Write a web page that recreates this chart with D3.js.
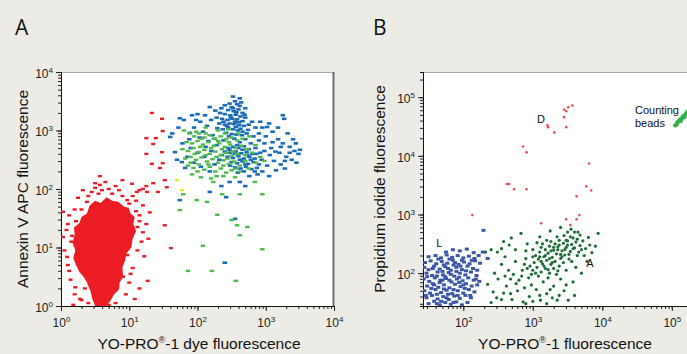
<!DOCTYPE html>
<html>
<head>
<meta charset="utf-8">
<script src="https://cdn.jsdelivr.net/npm/d3@7"></script>
<style>
  html, body { margin: 0; padding: 0; background: #ecebe5; }
  svg { display: block; font-family: "Liberation Sans", Arial, sans-serif; }
</style>
</head>
<body>
<svg id="chart" width="687" height="354"></svg>
<script>
// ---- data (values are log10 exponents: [log x, log y]) ----
// Panel A: YO-PRO-1 dye vs Annexin V APC
const redCoreA = [[0.42,1.72],[0.50,1.80],[0.58,1.76],[0.67,1.86],[0.75,1.80],[0.84,1.78],[0.92,1.70],[0.99,1.68],[1.02,1.58],[1.08,1.52],[1.06,1.40],[1.10,1.28],[1.05,1.15],[1.03,1.00],[0.96,0.90],[0.94,0.78],[0.90,0.66],[0.91,0.50],[0.86,0.40],[0.85,0.28],[0.78,0.20],[0.72,0.08],[0.66,0.0],[0.50,0.0],[0.46,0.12],[0.43,0.26],[0.38,0.40],[0.33,0.50],[0.27,0.58],[0.22,0.70],[0.18,0.82],[0.21,0.95],[0.17,1.08],[0.20,1.22],[0.19,1.34],[0.27,1.42],[0.30,1.52],[0.38,1.58]];
const redA = [[1.33,3.30],[1.48,3.20],[1.49,2.99],[1.25,2.87],[1.39,2.87],[1.35,2.77],[1.25,2.60],[1.48,2.63],[1.33,2.43],[1.45,2.36],[1.49,2.44],[0.57,2.22],[1.52,2.15],[1.04,2.09],[1.26,1.95],[1.42,1.95],[1.55,2.03],[0.32,1.98],[0.57,2.07],[1.52,1.38],[1.61,0.99],[1.27,0.43],[1.20,1.26],[0.03,1.61],[0.03,1.18],[0.09,0.84],[0.21,0.32],[0.97,0.87],[1.05,1.30],[0.91,0.50],[0.72,1.57],[0.82,1.74],[0.97,1.81],[1.11,1.95],[0.38,1.78],[0.10,1.40],[0.15,1.10],[0.12,0.60],[0.20,0.20],[0.30,0.10],[0.45,1.95],[0.60,1.98],[0.75,1.92],[0.90,1.88],[1.00,1.75],[1.10,1.62],[1.15,1.45],[1.18,1.10],[1.12,0.95],[1.05,0.65],[1.00,0.40],[0.95,0.20],[0.80,0.05],[0.25,0.85],[0.22,1.45],[0.30,1.65],[0.05,0.95],[0.08,1.30],[0.65,2.12],[0.80,2.05],[1.20,2.00],[0.40,0.05],[0.50,2.02],[1.35,2.10],[1.15,1.98],[1.10,1.80],[1.12,1.35],[0.16,1.20],[0.14,0.45],[0.98,1.05],[1.02,0.55],
  [1.15,1.55],[1.20,1.72],[1.25,1.40],[1.22,0.85],[1.15,0.30],[0.70,0.02],[0.35,0.30],[0.28,0.12],[0.10,0.70],[0.12,1.55],[0.20,1.65],[0.25,1.85],[0.40,1.88],[0.55,1.92],[0.70,2.00],[0.85,1.98],[1.05,1.88],[1.30,1.60],[1.28,1.15],[0.50,2.10],[0.90,2.15],[1.25,2.05],[0.18,0.02],[1.08,0.12]];
const blueA = [[2.55,3.50],[2.58,3.45],[2.50,3.40],[2.62,3.42],[2.45,3.35],[2.53,3.33],[2.60,3.36],[2.66,3.30],[2.40,3.28],[2.48,3.26],[2.56,3.27],[2.63,3.24],[2.70,3.22],[2.36,3.20],[2.44,3.18],[2.51,3.20],[2.58,3.19],[2.66,3.16],[2.32,3.12],[2.40,3.10],[2.47,3.12],[2.54,3.11],[2.61,3.09],[2.68,3.08],[2.75,3.10],[2.29,3.04],[2.37,3.02],[2.45,3.05],[2.52,3.02],[2.59,3.00],[2.66,2.98],[2.42,2.96],[2.50,2.94],[2.57,2.93],[2.35,3.38],[2.70,3.38],[2.47,3.46],[2.40,3.43],[2.64,3.48],[2.55,3.15],
  [2.45,2.70],[2.52,2.72],[2.60,2.70],[2.68,2.73],[2.75,2.68],[2.40,2.64],[2.48,2.62],[2.56,2.64],[2.64,2.61],[2.72,2.63],[2.80,2.60],[2.44,2.55],[2.52,2.53],[2.60,2.56],[2.68,2.52],[2.76,2.55],[2.84,2.52],[2.50,2.46],[2.58,2.44],[2.66,2.47],[2.74,2.43],[2.82,2.46],[2.90,2.42],[2.55,2.37],[2.63,2.35],[2.71,2.38],[2.79,2.34],[2.87,2.36],[2.36,2.58],[2.62,2.80],[2.70,2.85],[2.78,2.78],[2.85,2.70],[2.92,2.62],[2.48,2.40],
  [2.95,3.05],[3.05,3.12],[2.90,2.95],[3.00,2.90],[3.10,2.98],[3.18,2.85],[3.25,2.78],[3.35,2.72],[3.42,2.65],[3.48,2.60],[3.30,2.55],[3.20,2.62],[3.08,2.70],[2.98,2.78],[3.12,2.48],[3.22,2.42],[3.38,2.50],[3.02,2.40],[2.95,2.30],[3.15,2.32],[3.28,2.35],[2.88,2.25],[3.05,2.22],[2.92,3.15],[3.18,3.05],[3.40,2.85],[3.32,2.95],[3.45,2.45],[2.82,2.90],[3.10,2.80],[3.25,3.26],[3.27,3.20],[3.02,3.06],
  [1.60,2.89],[1.63,2.95],[1.67,2.63],[1.74,3.21],[1.80,3.18],[1.92,3.26],[2.00,3.28],[2.11,3.26],[2.04,3.15],[2.14,3.08],[2.20,3.18],[1.85,2.55],[1.77,2.46],[1.82,2.36],[1.70,2.50],[1.89,2.96],[1.95,3.05],[2.08,2.98],[2.22,2.92],[1.78,2.78],[1.90,2.70],[2.00,2.62],[2.10,2.55],[1.95,2.45],[2.05,2.38],[2.18,2.30],[2.25,2.42],[1.88,2.85],[2.16,2.82],[1.72,3.05],[2.28,2.75],
  [2.52,3.38],[2.57,3.31],[2.49,3.22],[2.61,3.14],[2.43,3.08],[2.56,3.06],[2.63,3.03],[2.38,3.15],[2.69,3.27],[2.33,3.30],[2.28,3.22],[2.74,3.01],[2.80,3.15],[2.85,3.05],[2.46,2.90],[2.54,2.86],[2.65,2.92],[2.72,2.95],[2.58,2.75],[2.66,2.67],[2.73,2.58],[2.55,2.60],[2.47,2.67],[2.62,2.50],[2.70,2.42],[2.78,2.50],[2.86,2.60],[2.94,2.50],[2.98,2.65],[3.06,2.58],[3.14,2.64],[3.22,2.72],[3.35,2.62],[3.28,2.48],[2.84,2.30],[2.68,2.30],[2.76,2.22],[2.59,2.28],[2.32,2.50],[2.20,2.65],[2.12,2.72],[2.03,2.88],[1.98,3.18],[2.26,3.34],[2.18,3.40],[2.62,3.55],[2.52,3.58],[2.38,2.83],[3.50,2.67],[3.44,2.78],[2.90,2.83],
  [1.74,1.81],[2.18,1.95],[2.42,1.86],[2.55,1.49],[2.40,0.74],[2.62,2.12],[2.47,2.12],[2.35,2.05],[2.70,2.05]];
const greenA = [[1.80,3.00],[1.88,2.95],[1.95,2.90],[2.02,2.95],[2.10,2.88],[2.18,2.92],[2.26,2.86],[2.34,2.90],[2.42,2.85],[2.50,2.88],[2.58,2.83],[2.66,2.86],[1.84,2.80],[1.92,2.78],[2.00,2.82],[2.08,2.76],[2.16,2.80],[2.24,2.74],[2.32,2.78],[2.40,2.72],[2.48,2.76],[2.56,2.70],[2.64,2.74],[2.72,2.68],[1.78,2.68],[1.86,2.65],[1.94,2.70],[2.02,2.63],[2.10,2.67],[2.18,2.60],[2.26,2.64],[2.34,2.58],[2.42,2.62],[2.50,2.57],[2.58,2.60],[2.80,2.62],[1.82,2.52],[1.90,2.55],[1.98,2.50],[2.06,2.54],[2.14,2.47],[2.22,2.51],[2.30,2.45],[2.38,2.49],[2.46,2.43],[2.54,2.47],[2.70,2.48],[1.86,2.40],[1.94,2.36],[2.02,2.42],[2.10,2.33],[2.18,2.38],[2.26,2.30],[2.34,2.35],[2.42,2.28],[2.50,2.32],[2.62,2.30],[2.75,2.35],[1.92,2.25],[2.05,2.20],[2.20,2.18],[2.38,2.22],[2.55,2.20],[2.92,2.55],[2.98,2.48],[2.85,2.75],[2.30,3.00],[2.45,3.02],[2.12,3.05],[2.60,2.95],[2.76,2.90],
  [2.20,2.70],[2.28,2.55],[2.36,2.68],[2.44,2.52],[2.12,2.58],[2.04,2.72],[1.96,2.60],[2.30,2.82],[2.38,2.40],[2.16,2.42],[2.24,2.86],[2.52,2.64],[2.46,2.80],[2.06,2.86],[1.90,2.45],[2.00,2.30],[2.28,2.22],[2.62,2.40],[2.70,2.58],[2.86,2.45],[2.12,2.95],[2.40,2.95],[1.98,2.98],[2.56,2.35],
  [1.79,1.91],[1.99,1.81],[2.14,1.78],[1.74,1.64],[2.36,1.91],[2.62,1.91],[2.95,1.91],[2.29,1.56],[2.50,1.47],[2.58,1.38],[2.73,1.35],[2.62,1.21],[2.08,1.03],[2.95,0.97],[1.86,0.60],[2.21,0.60],[2.56,0.43],[2.84,2.12],[2.23,2.12]];
const yellowA = [[1.70,2.15],[1.77,1.98]];

// Panel B: YO-PRO-1 vs propidium iodide
const blueL = [[1.85,2.40],[1.95,2.38],[2.05,2.41],[1.75,2.36],[2.15,2.35],
  [1.50,2.28],[1.60,2.30],[1.68,2.26],[1.76,2.31],[1.84,2.27],[1.92,2.30],[2.00,2.26],[2.08,2.29],[2.16,2.25],[2.22,2.30],
  [1.45,2.18],[1.53,2.21],[1.61,2.16],[1.69,2.20],[1.77,2.17],[1.85,2.22],[1.93,2.15],[2.01,2.19],[2.09,2.16],[2.17,2.21],[2.24,2.17],
  [1.44,2.10],[1.50,2.06],[1.58,2.12],[1.66,2.07],[1.74,2.11],[1.82,2.05],[1.90,2.10],[1.98,2.06],[2.06,2.12],[2.14,2.08],[2.20,2.05],
  [1.47,2.00],[1.55,1.96],[1.63,2.02],[1.71,1.97],[1.79,2.01],[1.87,1.95],[1.95,2.00],[2.03,1.97],[2.11,2.02],[2.19,1.96],
  [1.43,1.90],[1.51,1.86],[1.59,1.92],[1.67,1.88],[1.75,1.91],[1.83,1.85],[1.91,1.90],[1.99,1.87],[2.07,1.92],[2.15,1.88],[2.23,1.86],
  [1.48,1.78],[1.56,1.82],[1.64,1.76],[1.72,1.80],[1.80,1.75],[1.88,1.81],[1.96,1.77],[2.04,1.82],[2.12,1.78],[2.20,1.80],
  [1.44,1.70],[1.52,1.66],[1.60,1.72],[1.68,1.67],[1.76,1.71],[1.84,1.65],[1.92,1.70],[2.00,1.66],[2.08,1.72],[2.16,1.68],
  [1.47,1.58],[1.55,1.62],[1.63,1.56],[1.71,1.60],[1.79,1.55],[1.87,1.61],[1.95,1.57],[2.03,1.62],[2.11,1.58],
  [1.50,1.48],[1.58,1.52],[1.66,1.46],[1.74,1.50],[1.82,1.47],[1.90,1.51],[1.98,1.46],[2.06,1.50],
  [1.78,2.08],[1.86,2.14],[1.70,2.03],[1.82,1.98],[1.90,2.03],[1.74,1.94],[1.66,1.84],[1.80,1.88],[1.94,1.93],[1.88,2.18],[1.96,2.12],[1.62,1.95],[1.72,1.73],[1.58,1.80],[2.00,1.80],
  [1.46,1.62],[1.54,1.74],[1.62,1.64],[1.70,1.88],[1.78,1.64],[1.86,1.72],[1.94,1.84],[2.02,1.74],[1.64,2.24],[1.72,2.14],[1.80,2.24],[1.98,2.22],[2.04,2.04],[1.56,2.08],[1.48,1.94],[1.68,1.52],[1.86,1.50],[2.10,1.62],[2.18,1.90],[2.12,2.22],[1.92,1.62],[1.76,1.58],[1.62,1.48],
  [2.29,2.73],[2.28,2.36],[2.35,2.25]];
const greenB = [[3.40,2.78],[3.65,2.70],[3.80,2.61],[3.94,2.68],[3.90,2.46],[2.83,2.68],[2.69,2.60],[2.49,2.36],[2.32,2.36],[3.55,2.75],[3.25,2.72],[3.72,2.55],[2.40,2.40],[2.55,2.42],
  [2.35,1.81],[2.43,1.68],[2.58,1.66],[2.86,1.51],[3.11,1.54],[3.35,1.54],[3.51,1.54],[2.50,1.90],[2.62,1.78],[2.70,1.55],[2.78,1.70],[2.95,1.60],[3.20,1.65],[3.45,1.70],[3.60,1.62],[2.65,2.05],[2.55,2.15],[2.75,2.20],[2.45,2.00],[2.90,1.48],[3.05,1.72],[3.30,1.78],[3.40,1.90],[3.58,1.85],[2.80,1.88],[2.98,1.80],[3.15,1.85],[2.72,1.98],[2.85,2.05],[3.70,2.00],[3.78,2.20],[3.85,2.35],[3.62,2.10],[2.60,2.28],[2.48,1.58],[3.00,2.40],[2.92,2.50],[3.10,2.62],[3.20,1.48],[2.40,1.50],
  [3.00,2.05],[3.06,2.10],[3.12,2.02],[3.18,2.08],[3.24,2.00],[3.02,2.18],[3.08,2.24],[3.14,2.16],[3.20,2.22],[3.26,2.15],[3.32,2.20],[3.38,2.12],[3.04,2.30],[3.10,2.36],[3.16,2.28],[3.22,2.34],[3.28,2.27],[3.34,2.33],[3.40,2.25],[3.46,2.31],[3.52,2.24],[3.12,2.44],[3.18,2.40],[3.24,2.46],[3.30,2.39],[3.36,2.45],[3.42,2.38],[3.48,2.44],[3.54,2.37],[3.60,2.43],[3.66,2.36],[3.26,2.54],[3.32,2.50],[3.38,2.56],[3.44,2.51],[3.50,2.55],[3.56,2.49],[3.62,2.53],[3.68,2.47],[3.35,2.62],[3.45,2.64],[3.58,2.60],[2.96,2.12],[2.98,1.98],[3.08,1.95],[3.30,2.08],[3.44,2.18],[3.56,2.20],[3.14,2.50],[3.20,2.56],[3.64,2.30],[3.70,2.40],[3.22,1.92],[3.34,1.98],[3.48,2.05],[2.90,2.25],[2.92,2.08],[3.06,2.52],[3.36,2.04],[3.18,2.30],[3.30,2.44],[3.42,2.28],[3.50,2.48],
  [3.10,2.28],[3.26,2.38],[3.38,2.48],[3.48,2.56],[3.54,2.62],[3.40,2.32],[3.28,2.18],[3.16,2.12],[3.04,2.00],[2.94,1.92],[3.12,2.20],[3.24,2.25],[3.36,2.40],[3.46,2.40],[3.58,2.42],[3.64,2.58],[3.52,2.32],[3.22,2.06],[3.00,2.28],[2.88,2.15],[2.84,1.95],[2.76,1.82],[2.68,1.90],[2.60,1.95],[2.88,1.75],[3.10,1.62],[3.25,1.72],[3.38,1.62],[3.48,1.80],[2.68,1.65],[2.55,1.55],[3.00,1.52],[3.28,1.58],[2.75,2.40],[2.66,2.48],[2.58,2.54],[2.90,2.38],[3.74,2.30],[3.82,2.48],[3.68,2.65],[3.76,2.42],[3.60,2.70],[3.50,2.70]];
const redD = [[2.86,4.16],[2.91,4.06],[3.21,4.52],[3.22,4.49],[3.31,4.40],[3.45,4.79],[3.48,4.76],[3.51,4.83],[3.57,4.86],[3.45,4.66],[3.48,4.49],[3.81,3.87],[2.63,3.52],[2.66,3.52],[2.73,3.43],[2.91,3.43],[3.77,3.48],[3.84,3.41],[3.63,3.31],[2.13,2.99],[3.12,2.85],[3.48,2.92],[3.54,2.82],[3.63,2.92],[3.67,2.99]];
const beadsB = [[5.05,4.52],[5.07,4.54],[5.08,4.57],[5.10,4.59],[5.12,4.62],[5.13,4.60],[5.15,4.65],[5.17,4.68],[5.18,4.66],[5.20,4.71],[5.22,4.74],[5.24,4.77]];

const ticksA = [0, 1, 2, 3, 4];
const ticksBx = [2, 3, 4, 5];
const ticksBy = [2, 3, 4, 5];
const notesB = [
  { t: "D", x: 3.06, y: 4.56 },
  { t: "Counting", x: 4.47, y: 4.71 },
  { t: "beads", x: 4.47, y: 4.50 },
  { t: "L", x: 1.61, y: 2.44 },
  { t: "A", x: 3.77, y: 2.10 }
];

const svg = d3.select("#chart");
const p10 = (e) => Math.pow(10, e);

function minorTicks(lo, hi) {
  const out = [];
  for (let k = Math.floor(lo); k <= Math.ceil(hi); k++) {
    for (let m = 1; m <= 9; m++) {
      const v = Math.log10(m) + k;
      if (v >= lo - 1e-6 && v <= hi + 1e-6) out.push(p10(v));
    }
  }
  return out;
}

function supLabels(g) {
  g.selectAll(".tick text").each(function (d) {
    const t = d3.select(this);
    t.text("10");
    t.append("tspan").attr("dy", -5).attr("font-size", 8).text(Math.round(Math.log10(d)));
  });
}

function panel(opts) {
  const { x, y, xLo, xHi, yLo, yHi, xMaj, yMaj, id } = opts;
  const x0 = x.range()[0], x1 = x.range()[1], y0 = y.range()[0], y1 = y.range()[1];
  const g = svg.append("g");
  g.append("rect").attr("x", x0).attr("y", y1).attr("width", x1 - x0).attr("height", y0 - y1).attr("fill", "#fff");
  g.append("line").attr("x1", x0).attr("x2", x1).attr("y1", y1 + 0.5).attr("y2", y1 + 0.5).attr("stroke", "#a9a9a9");
  g.append("line").attr("x1", x1 - 0.5).attr("x2", x1 - 0.5).attr("y1", y1).attr("y2", y0).attr("stroke", "#6c6c6c").attr("stroke-width", 2);

  svg.append("clipPath").attr("id", id).append("rect")
    .attr("x", x0).attr("y", y1).attr("width", x1 - x0).attr("height", y0 - y1);

  // minor ticks
  const xm = g.append("g").attr("transform", `translate(0,${y0})`)
    .call(d3.axisBottom(x).tickValues(minorTicks(xLo, xHi)).tickSize(3).tickFormat(""));
  const ym = g.append("g").attr("transform", `translate(${x0},0)`)
    .call(d3.axisLeft(y).tickValues(minorTicks(yLo, yHi)).tickSize(3).tickFormat(""));
  // major ticks with labels
  const xa = g.append("g").attr("transform", `translate(0,${y0})`)
    .call(d3.axisBottom(x).tickValues(xMaj.map(p10)).tickSize(5).tickPadding(3).tickSizeOuter(0));
  const ya = g.append("g").attr("transform", `translate(${x0},0)`)
    .call(d3.axisLeft(y).tickValues(yMaj.map(p10)).tickSize(5).tickPadding(3).tickSizeOuter(0));
  [xm, ym, xa, ya].forEach((a) => {
    a.select(".domain").attr("stroke", "#111");
    a.selectAll(".tick line").attr("stroke", "#222");
  });
  [xa, ya].forEach((a) => {
    a.selectAll("text").attr("font-size", 12).attr("fill", "#222").attr("font-family", "Liberation Sans, Arial, sans-serif");
    supLabels(a);
  });
  ya.selectAll(".tick text").attr("dy", "0.45em");
  xa.selectAll(".tick text").attr("dy", "1.05em");
  return svg.append("g").attr("clip-path", `url(#${id})`);
}

// ---- Panel A ----
const xA = d3.scaleLog().domain([1, 1e4]).range([61, 334]);
const yA = d3.scaleLog().domain([1, 1e4]).range([306, 72]);
const plotA = panel({ x: xA, y: yA, xLo: 0, xHi: 4, yLo: 0, yHi: 4, xMaj: ticksA, yMaj: ticksA, id: "clipA" });

function dashes(layer, data, sx, sy, color, w, h) {
  layer.append("g").selectAll("rect").data(data).join("rect")
    .attr("x", (d) => sx(p10(d[0])) - w / 2)
    .attr("y", (d) => sy(p10(d[1])) - h / 2)
    .attr("width", w).attr("height", h)
    .attr("fill", color);
}

plotA.append("path").datum(redCoreA)
  .attr("d", d3.line().x((d) => xA(p10(d[0]))).y((d) => yA(p10(d[1]))).curve(d3.curveLinearClosed))
  .attr("fill", "#ec1c24");
dashes(plotA, redA, xA, yA, "#ec1c24", 4, 2.4);
dashes(plotA, blueA, xA, yA, "#1b6cb6", 4.5, 2.6);
dashes(plotA, greenA, xA, yA, "#4dbb4a", 4.5, 2.4);
dashes(plotA, yellowA, xA, yA, "#e4e02a", 4, 2.2);

// ---- Panel B ----
const xB = d3.scaleLog().domain([p10(1.42), p10(5.6)]).range([423, 713.5]);
const yB = d3.scaleLog().domain([p10(1.44), p10(5.43)]).range([306, 72]);
const plotB = panel({ x: xB, y: yB, xLo: 1.42, xHi: 5.6, yLo: 1.44, yHi: 5.43, xMaj: ticksBx, yMaj: ticksBy, id: "clipB" });

dashes(plotB, blueL, xB, yB, "#3d56a8", 4, 3);
function dots(layer, data, color, r) {
  layer.append("g").selectAll("circle").data(data).join("circle")
    .attr("cx", (d) => xB(p10(d[0])))
    .attr("cy", (d) => yB(p10(d[1])))
    .attr("r", r)
    .attr("fill", color);
}
dots(plotB, greenB, "#1f6d36", 1.6);
dots(plotB, redD, "#ef4a52", 1.3);
dots(plotB, beadsB, "#2fb24b", 2.2);

svg.append("g").selectAll("text").data(notesB).join("text")
  .attr("x", (d) => xB(p10(d.x)))
  .attr("y", (d) => yB(p10(d.y)))
  .attr("font-size", 11).attr("fill", "#111")
  .text((d) => d.t);

// ---- titles ----
svg.append("text").attr("x", 15).attr("y", 35).attr("font-family", "Open Sans, sans-serif").attr("font-size", 21).attr("fill", "#111").text("A");
svg.append("text").attr("x", 373).attr("y", 35).attr("font-family", "Open Sans, sans-serif").attr("font-size", 21).attr("fill", "#111").text("B");

function xTitle(cx, parts) {
  const t = svg.append("text").attr("x", cx).attr("y", 349).attr("text-anchor", "middle").attr("font-size", 15.5).attr("fill", "#111");
  parts.forEach((p) => {
    const s = t.append("tspan").text(p.s);
    if (p.sup) s.attr("font-size", 9).attr("dy", -6);
    if (p.down) s.attr("dy", 6);
  });
}
xTitle(199, [{ s: "YO-PRO" }, { s: "®", sup: true }, { s: "-1 dye fluorescence", down: true }]);
xTitle(565, [{ s: "YO-PRO" }, { s: "®", sup: true }, { s: "-1 fluorescence", down: true }]);

svg.append("text").attr("transform", "translate(28,189) rotate(-90)").attr("text-anchor", "middle")
  .attr("font-size", 15.5).attr("fill", "#111").text("Annexin V APC fluorescence");
svg.append("text").attr("transform", "translate(385,189) rotate(-90)").attr("text-anchor", "middle")
  .attr("font-size", 15.5).attr("fill", "#111").text("Propidium iodide fluorescence");
</script>
</body>
</html>
